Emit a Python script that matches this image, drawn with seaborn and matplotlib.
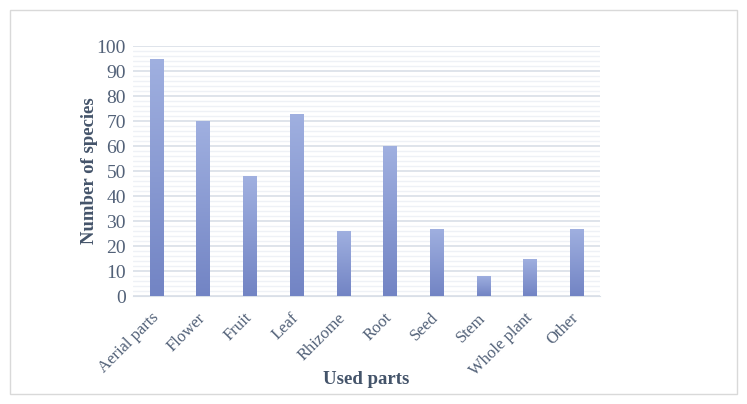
import numpy as np
import pandas as pd
import matplotlib
matplotlib.use("Agg")
import matplotlib.pyplot as plt
import seaborn as sns
from matplotlib.patches import Rectangle
from matplotlib.ticker import MultipleLocator

# Data
parts = ["Aerial parts", "Flower", "Fruit", "Leaf", "Rhizome",
         "Root", "Seed", "Stem", "Whole plant", "Other"]
species = [95, 70, 48, 73, 26, 60, 27, 8, 15, 27]

TEXT = "#44546a"
TICK = "#526178"


def plot_data(df):
    sns.set_style("white")
    plt.rcParams["font.family"] = ["Liberation Serif", "DejaVu Serif"]

    fig = plt.figure(figsize=(7.47, 4.04), dpi=100)
    ax = fig.add_axes([0.178, 0.267, 0.625, 0.619])

    sns.barplot(data=df, x="part", y="species", color="#8a9bd5",
                width=0.28, ax=ax)

    # replace flat bars with a vertical gradient
    grad = np.linspace(0, 1, 256).reshape(-1, 1)
    cmap = matplotlib.colors.LinearSegmentedColormap.from_list(
        "g", ["#7284c4", "#a0b0e0"])
    for p in list(ax.patches):
        x0, y0 = p.get_x(), p.get_y()
        w, h = p.get_width(), p.get_height()
        im = ax.imshow(grad, cmap=cmap, aspect="auto", origin="lower",
                       extent=[x0, x0 + w, y0, y0 + h], zorder=3)
        im.set_clip_path(p)
        p.set_facecolor("none")
        p.set_edgecolor("none")

    ax.set_xlim(-0.5, len(parts) - 0.5)
    ax.set_ylim(0, 100)
    ax.yaxis.set_major_locator(MultipleLocator(10))
    ax.yaxis.set_minor_locator(MultipleLocator(2))
    ax.grid(True, which="major", axis="y", color="#d9dfe8", linewidth=1.2, zorder=0)
    ax.grid(True, which="minor", axis="y", color="#eef1f6", linewidth=1.0, zorder=0)
    ax.set_axisbelow(True)
    for s in ax.spines.values():
        s.set_visible(False)
    ax.spines["bottom"].set_visible(True)
    ax.spines["bottom"].set_color("#d9dfe8")

    ax.tick_params(axis="both", which="both", length=0, colors=TICK)
    ax.tick_params(axis="y", pad=5, labelsize=14)
    ax.tick_params(axis="x", pad=14, labelsize=12)
    ax.set_xticks(range(len(parts)))
    ax.set_xticklabels(parts, rotation=45, ha="right", va="center",
                       rotation_mode="anchor")

    ax.set_xlabel("Used parts", fontsize=13.5, fontweight="bold", color=TEXT)
    ax.set_ylabel("Number of species", fontsize=13.5, fontweight="bold", color=TEXT)
    ax.yaxis.set_label_coords(-0.075, 0.5)
    ax.xaxis.set_label_coords(0.5, -0.30)

    # light frame around the whole chart
    fig.patches.append(Rectangle((0.013, 0.025), 0.974, 0.95, transform=fig.transFigure,
                                 fill=False, edgecolor="#d9d9d9", linewidth=1.0))

    fig.savefig("out.png", dpi=100)


def main():
    df = pd.DataFrame({"part": parts, "species": species})
    plot_data(df)


if __name__ == "__main__":
    main()
